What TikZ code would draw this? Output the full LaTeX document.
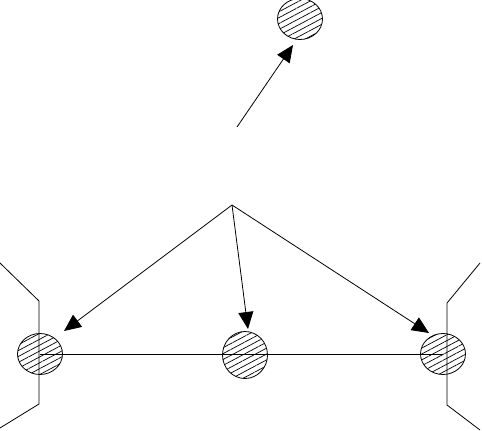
\documentclass[tikz,border=0pt]{standalone}
\usetikzlibrary{shapes.geometric,arrows.meta,patterns.meta}
\begin{document}
\begin{tikzpicture}[x=1pt,y=-1pt,line width=0.8pt,
  atom/.style={ellipse,draw,inner sep=0pt,minimum width=45pt,minimum height=41pt,
    pattern={Lines[angle=28,distance=5.2pt,line width=0.7pt]}},
  arr/.style={-{Triangle[length=17pt,width=15pt]}}]
\useasboundingbox (0,0) rectangle (482,431);
% atoms
\node[atom] (T) at (300,19) {};
\node[atom] (L) at (40,354) {};
\node[atom,minimum height=47pt] (M) at (245,355) {};
\node[atom] (R) at (443,354) {};
% frame lines
\coordinate (lt) at (39,301); \coordinate (lb) at (39,404);
\coordinate (rt) at (447,303); \coordinate (rb) at (447,405);
\draw (0,263) -- (lt) -- (lb) -- (0,428);
\draw (480,263) -- (rt) -- (rb) -- (480,430);
\draw (L.center) -- (R.center);
% arrows
\coordinate (s) at (237,127);
\coordinate (ts) at (293,45);
\draw[arr] (s) -- (ts);
\coordinate (A) at (232,205);
\coordinate (lt2) at (64,331);
\coordinate (mt2) at (248,329);
\coordinate (rt2) at (429,333);
\draw[arr] (A) -- (lt2);
\draw[arr] (A) -- (mt2);
\draw[arr] (A) -- (rt2);
\end{tikzpicture}
\end{document}
